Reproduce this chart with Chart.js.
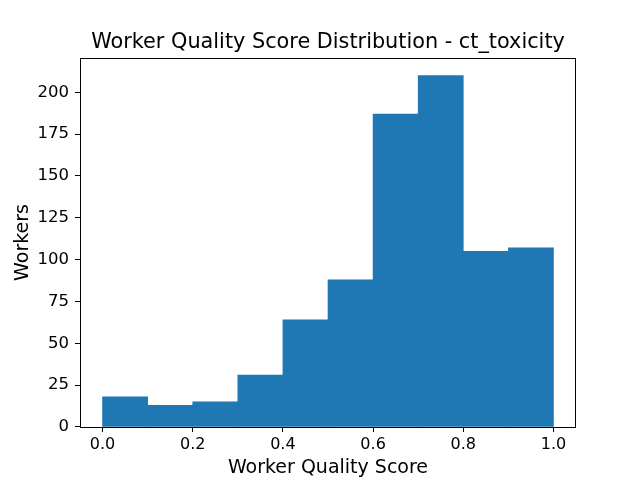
<!DOCTYPE html>
<html>
<head>
<meta charset="utf-8">
<script src="https://cdn.jsdelivr.net/npm/chart.js@4/dist/chart.umd.min.js"></script>
<style>
  html, body { margin: 0; padding: 0; background: #fff; }
  #wrap { width: 640px; height: 480px; }
</style>
</head>
<body>
<div id="wrap"><canvas id="c" width="640" height="480"></canvas></div>
<script>
// Histogram bins (edges) and counts
const binEdges = [0.0, 0.1, 0.2, 0.3, 0.4, 0.5, 0.6, 0.7, 0.8, 0.9, 1.0];
const counts = [18, 13, 15, 31, 64, 88, 187, 210, 105, 107];
const xTicks = [0.0, 0.2, 0.4, 0.6, 0.8, 1.0];
const yTicks = [0, 25, 50, 75, 100, 125, 150, 175, 200];
const titleText = 'Worker Quality Score Distribution - ct_toxicity';
const xLabel = 'Worker Quality Score';
const yLabel = 'Workers';

const FONT = "'DejaVu Sans', sans-serif";

const barData = counts.map((c, i) => ({ x: (binEdges[i] + binEdges[i + 1]) / 2, y: c }));

const framePlugin = {
  id: 'frame',
  afterDraw(chart) {
    const { ctx, chartArea: a } = chart;
    ctx.save();
    ctx.strokeStyle = '#000';
    ctx.lineWidth = 1;
    ctx.strokeRect(Math.round(a.left) + 0.5, Math.round(a.top) + 0.5,
      Math.round(a.right - a.left) - 1, Math.round(a.bottom - a.top));
    ctx.restore();
  }
};

new Chart(document.getElementById('c'), {
  type: 'bar',
  data: {
    datasets: [{
      data: barData,
      backgroundColor: '#1f77b4',
      borderWidth: 0,
      barPercentage: 1.0,
      categoryPercentage: 1.0,
      grouped: false
    }]
  },
  options: {
    responsive: false,
    animation: false,
    devicePixelRatio: 1,
    layout: { padding: { left: 0, right: 64, top: 0, bottom: 0 } },
    plugins: {
      legend: { display: false },
      tooltip: { enabled: false },
      title: {
        display: true,
        fullSize: false,
        text: titleText,
        color: '#000',
        font: { family: FONT, size: 20.8, weight: 'normal', lineHeight: 1.2 },
        padding: { top: 30, bottom: 3 }
      }
    },
    scales: {
      x: {
        type: 'linear',
        min: -0.05,
        max: 1.05,
        offset: false,
        afterBuildTicks(scale) { scale.ticks = xTicks.map(v => ({ value: v })); },
        afterFit(scale) { scale.height = 53; },
        grid: { offset: false, drawOnChartArea: false, drawTicks: true, tickLength: 5, color: '#000', tickWidth: 1 },
        border: { display: false },
        ticks: {
          color: '#000',
          padding: 3,
          maxRotation: 0,
          autoSkip: false,
          font: { family: FONT, size: 16 },
          callback: v => v.toFixed(1)
        },
        title: {
          display: true,
          text: xLabel,
          color: '#000',
          font: { family: FONT, size: 19 },
          padding: { top: 0, bottom: 1 }
        }
      },
      y: {
        type: 'linear',
        min: 0,
        max: 220.5,
        afterBuildTicks(scale) { scale.ticks = yTicks.map(v => ({ value: v })); },
        afterFit(scale) { scale.width = 80; },
        grid: { offset: false, drawOnChartArea: false, drawTicks: true, tickLength: 5, color: '#000', tickWidth: 1 },
        border: { display: false },
        ticks: {
          color: '#000',
          padding: 6,
          autoSkip: false,
          font: { family: FONT, size: 16.5 },
          callback: v => String(v)
        },
        title: {
          display: true,
          text: yLabel,
          color: '#000',
          font: { family: FONT, size: 19 },
          padding: { top: 12, bottom: 0 }
        }
      }
    }
  },
  plugins: [framePlugin]
});
</script>
</body>
</html>
